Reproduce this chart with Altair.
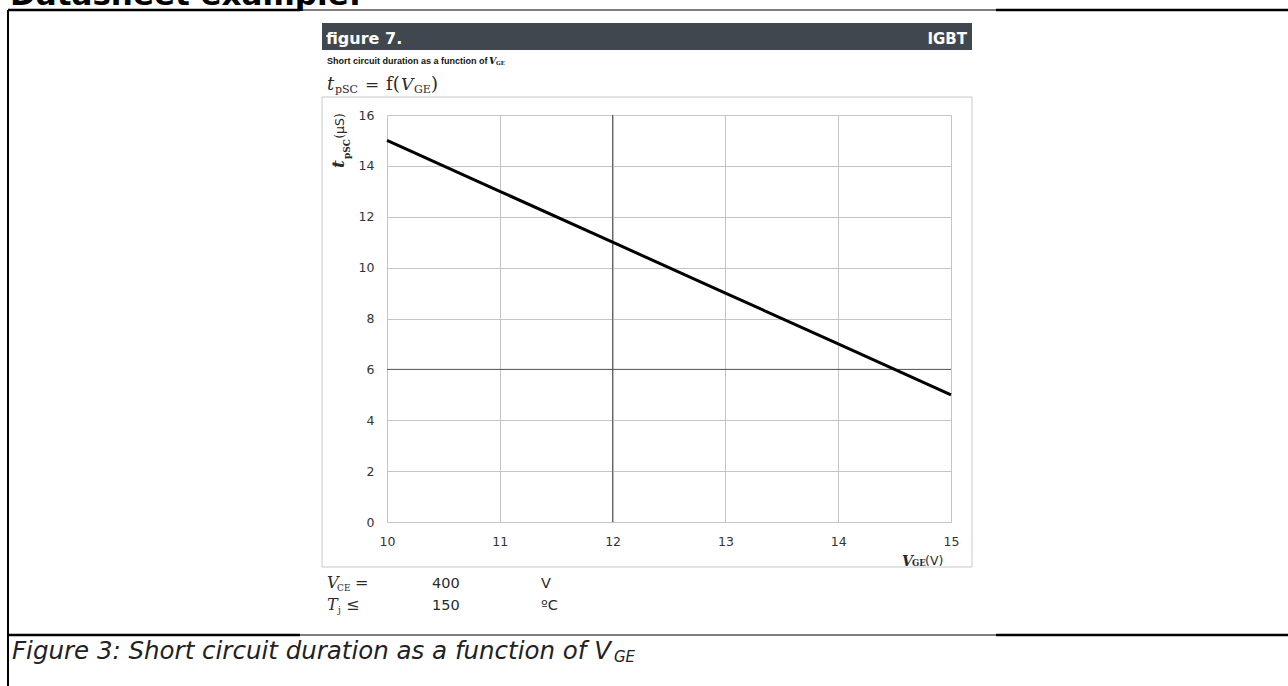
import altair as alt
import pandas as pd

# Curve: short-circuit withstand time versus gate-emitter voltage
vge = [10, 11, 12, 13, 14, 15]
tpsc = [15, 13, 11, 9, 7, 5]

x_ticks = [10, 11, 12, 13, 14, 15]
y_ticks = [0, 2, 4, 6, 8, 10, 12, 14, 16]

# emphasised grid lines
dark_x = [12]
dark_y = [6]

# plot area: 564 x 407 px, its top-left corner at (387, 115) on the page
W, H = 564, 407
OX, OY = 387, 115

SANS = "DejaVu Sans"
SERIF = "DejaVu Serif"
INK = "#2a2a2a"


def px(x):
    return x - OX


def py(y):
    return y - OY


one = pd.DataFrame({"k": [0]})


def text(s, x, y, size, font=SANS, align="left", baseline="alphabetic",
         color=INK, weight="normal", style="normal", angle=0):
    return alt.Chart(one).mark_text(
        text=s, fontSize=size, font=font, align=align, baseline=baseline,
        color=color, fontWeight=weight, fontStyle=style, angle=angle,
    ).encode(x=alt.value(px(x)), y=alt.value(py(y)))


def hline(x1, x2, y, width, color="black"):
    return alt.Chart(one).mark_rule(color=color, strokeWidth=width).encode(
        x=alt.value(px(x1)), x2=alt.value(px(x2)), y=alt.value(py(y)))


def vline(x, y1, y2, width, color="black"):
    return alt.Chart(one).mark_rule(color=color, strokeWidth=width).encode(
        x=alt.value(px(x)), y=alt.value(py(y1)), y2=alt.value(py(y2)))


def box(x1, y1, x2, y2, fill=None, stroke=None):
    kw = {}
    if fill:
        kw["fill"] = fill
    else:
        kw["fillOpacity"] = 0
    if stroke:
        kw["stroke"] = stroke
        kw["strokeWidth"] = 1
    return alt.Chart(one).mark_rect(**kw).encode(
        x=alt.value(px(x1)), x2=alt.value(px(x2)),
        y=alt.value(py(y1)), y2=alt.value(py(y2)))


# ---- document frame around the figure ----
frame = [
    text("Datasheet example:", 10, 5, 31, weight="bold", color="black"),
    vline(8, 10, 686, 2),
    hline(8, 300, 10, 2.5),
    hline(300, 996, 10, 1.2),
    hline(996, 1288, 10, 2.5),
    hline(8, 300, 635, 2.5),
    hline(300, 996, 635, 1.2),
    hline(996, 1288, 635, 2.5),
    text("Figure 3: Short circuit duration as a function of V", 12, 659, 24.5,
         style="italic", color="#222"),
    text("GE", 614, 662, 15, style="italic", color="#222"),
]

# ---- figure header and captions ----
header = [
    box(322, 23, 972, 50, fill="#41474f"),
    text("figure 7.", 326, 44, 16, weight="bold", color="white"),
    text("IGBT", 967, 44, 15, weight="bold", color="white", align="right"),
    text("Short circuit duration as a function of", 327, 64, 9,
         font="Liberation Sans", weight="bold", color="#111"),
    text("V", 489, 64, 9.5, font=SERIF, weight="bold", style="italic", color="#111"),
    text("GE", 496, 65, 5.5, font=SERIF, weight="bold", color="#111"),
    text("t", 327, 90, 18, font=SERIF, style="italic"),
    text("pSC", 335, 93, 11, font=SERIF),
    text("=", 365, 90, 17, font=SERIF),
    text("f(", 386, 90, 18, font=SERIF),
    text("V", 401, 90, 17, font=SERIF, style="italic"),
    text("GE", 414, 93, 11, font=SERIF),
    text(")", 431, 90, 18, font=SERIF),
    box(322, 97, 972, 567, stroke="#c8c8c8"),
]

# ---- axis titles with subscripts ----
titles = [
    text("t", 339, 164, 17, font=SERIF, weight="bold", style="italic",
         align="center", baseline="middle", angle=270),
    text("pSC", 347, 149, 9, font=SERIF, weight="bold",
         align="center", baseline="middle", angle=270),
    text("(µS)", 340, 126, 12.5, align="center", baseline="middle", angle=270),
    text("V", 902, 566, 14, font=SERIF, weight="bold", style="italic"),
    text("GE", 912, 566, 8.5, font=SERIF, weight="bold"),
    text("(V)", 925, 565, 12.5),
]

# ---- test conditions below the graph ----
conditions = [
    text("V", 327, 588, 16, font=SERIF, style="italic"),
    text("CE", 337, 591, 9, font=SERIF),
    text("=", 355, 588, 16, font=SERIF),
    text("400", 432, 588, 14.5),
    text("V", 541, 588, 14.5),
    text("T", 327, 610, 16, font=SERIF, style="italic"),
    text("j", 338, 613, 9, font=SERIF),
    text("≤", 346, 610, 16, font=SERIF),
    text("150", 432, 610, 14.5),
    text("ºC", 541, 610, 14.5),
]

# ---- the graph ----
x_scale = alt.Scale(domain=[10, 15], nice=False, zero=False)
y_scale = alt.Scale(domain=[0, 16], nice=False)

axis_common = dict(
    grid=True, gridColor="#c4c4c4", gridWidth=1, domain=False, ticks=False,
    labelFont=SANS, labelFontSize=12.5, labelColor="#333", title=None,
    labelFlush=False, format="d",
)

curve_df = pd.DataFrame({"vge": vge, "tpsc": tpsc})

curve = alt.Chart(curve_df).mark_line(color="black", strokeWidth=3).encode(
    x=alt.X("vge:Q", scale=x_scale,
            axis=alt.Axis(values=x_ticks, labelPadding=13, **axis_common)),
    y=alt.Y("tpsc:Q", scale=y_scale,
            axis=alt.Axis(values=y_ticks, labelPadding=13, **axis_common)),
)

dark_v = alt.Chart(pd.DataFrame({"x": dark_x})).mark_rule(
    color="#555", strokeWidth=1).encode(x=alt.X("x:Q", scale=x_scale))
dark_h = alt.Chart(pd.DataFrame({"y": dark_y})).mark_rule(
    color="#555", strokeWidth=1).encode(y=alt.Y("y:Q", scale=y_scale))

chart = alt.layer(
    *frame, *header, dark_v, dark_h, curve, *titles, *conditions
).properties(
    width=W, height=H,
    padding={"left": OX, "top": OY, "right": 1288 - OX - W, "bottom": 686 - OY - H},
    autosize=alt.AutoSizeParams(type="none"),
    background="white",
).configure_view(stroke=None)

chart.save("out.html", embed_options={"renderer": "svg", "actions": False})
